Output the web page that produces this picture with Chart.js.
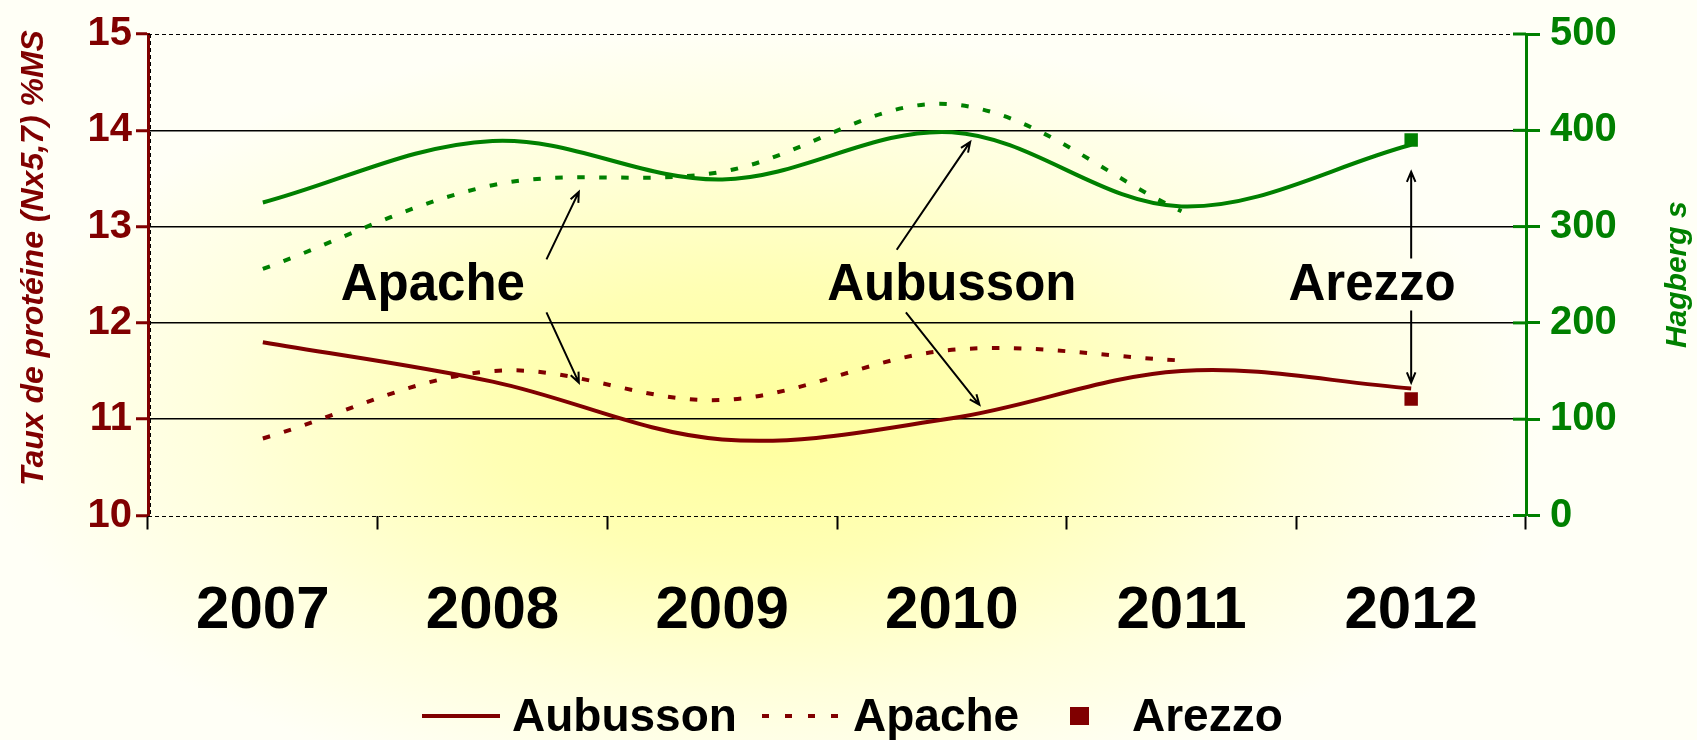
<!DOCTYPE html>
<html>
<head>
<meta charset="utf-8">
<script src="https://cdn.jsdelivr.net/npm/chart.js@4.4.1/dist/chart.umd.min.js"></script>
<style>
  html, body { margin: 0; padding: 0; background: #fffff4; }
  #wrap { width: 1697px; height: 740px; }
</style>
</head>
<body>
<div id="wrap"><canvas id="chart" width="1697" height="740"></canvas></div>
<script>
// --- data ---
const years = ['2007', '2008', '2009', '2010', '2011', '2012'];

// Taux de protéine (left axis, %MS)
const aubussonProteine = [11.80, 11.39, 10.79, 11.01, 11.50, 11.32];
const apacheProteine = [10.80, 11.50, 11.20, 11.72, 11.61, null];
const arezzoProteine = [null, null, null, null, null, 11.21];

// Hagberg (right axis, s)
const aubussonHagberg = [325, 389, 349, 398, 321, 385];
const apacheHagberg = [256, 343, 357, 427, 316, null];
const arezzoHagberg = [null, null, null, null, null, 390];

const proteineTicks = [10, 11, 12, 13, 14, 15];
const hagbergTicks = [0, 100, 200, 300, 400, 500];

const RED = '#800000';
const GREEN = '#008000';
const FONT = "'Liberation Sans', Arial, sans-serif";

// text labels with arrows, placed in data units (category index, protein value)
const callouts = [
    { text: 'Apache', x: 0.74, y: 12.24,
      arrows: [[1.235, 12.66, 1.376, 13.36], [1.235, 12.11, 1.376, 11.38]] },
    { text: 'Aubusson', x: 3.0, y: 12.24,
      arrows: [[2.76, 12.76, 3.08, 13.88], [2.80, 12.11, 3.12, 11.15]] },
    { text: 'Arezzo', x: 4.83, y: 12.24,
      arrows: [[5, 12.67, 5, 13.57], [5, 12.13, 5, 11.38]] }
];

function drawArrow(ctx, x1, y1, x2, y2) {
    const ang = Math.atan2(y2 - y1, x2 - x1);
    const len = 11;
    ctx.beginPath();
    ctx.moveTo(x1, y1);
    ctx.lineTo(x2, y2);
    ctx.moveTo(x2 - len * Math.cos(ang - 0.4), y2 - len * Math.sin(ang - 0.4));
    ctx.lineTo(x2, y2);
    ctx.lineTo(x2 - len * Math.cos(ang + 0.4), y2 - len * Math.sin(ang + 0.4));
    ctx.stroke();
}

const decorPlugin = {
    id: 'decor',
    beforeDraw(chart) {
        const { ctx, width, height } = chart;
        // soft yellow radial fill, strongest low in the middle
        const cx = 760, cy = 420, rx = 780, ry = 390;
        ctx.save();
        ctx.fillStyle = '#fffff6';
        ctx.fillRect(0, 0, width, height);
        ctx.translate(cx, cy);
        ctx.scale(1, ry / rx);
        const g = ctx.createRadialGradient(0, 0, 0, 0, 0, rx);
        g.addColorStop(0, '#ffff9c');
        g.addColorStop(0.35, '#ffffb4');
        g.addColorStop(0.7, '#ffffdc');
        g.addColorStop(1, '#fffff6');
        ctx.fillStyle = g;
        ctx.fillRect(-cx, -cy * rx / ry, width, height * rx / ry);
        ctx.restore();
    },
    beforeDatasetsDraw(chart) {
        const { ctx, chartArea: a, scales } = chart;
        ctx.save();
        // dashed frame lines at 15 and 10, and along the left side
        ctx.strokeStyle = '#000';
        ctx.lineWidth = 1;
        ctx.setLineDash([4, 3]);
        [15, 10].forEach(v => {
            const y = Math.round(scales.y.getPixelForValue(v)) + 0.5;
            ctx.beginPath();
            ctx.moveTo(a.left, y);
            ctx.lineTo(a.right, y);
            ctx.stroke();
        });
        ctx.beginPath();
        ctx.moveTo(a.left + 2.5, a.top);
        ctx.lineTo(a.left + 2.5, a.bottom);
        ctx.stroke();
        ctx.setLineDash([]);
        // green ticks crossing the right axis
        ctx.strokeStyle = GREEN;
        ctx.lineWidth = 3;
        hagbergTicks.forEach(v => {
            const y = scales.y2.getPixelForValue(v);
            ctx.beginPath();
            ctx.moveTo(a.right - 13, y);
            ctx.lineTo(a.right, y);
            ctx.stroke();
        });
        ctx.restore();
    },
    afterDraw(chart) {
        const { ctx, scales, chartArea: a } = chart;
        ctx.save();

        // callouts
        ctx.fillStyle = '#000';
        ctx.strokeStyle = '#000';
        ctx.lineWidth = 2;
        ctx.font = `bold 51px ${FONT}`;
        ctx.textAlign = 'center';
        ctx.textBaseline = 'alphabetic';
        callouts.forEach(c => {
            ctx.fillText(c.text, scales.x.getPixelForValue(c.x), scales.y.getPixelForValue(c.y));
            c.arrows.forEach(([i1, v1, i2, v2]) => {
                drawArrow(ctx,
                    scales.x.getPixelForValue(i1), scales.y.getPixelForValue(v1),
                    scales.x.getPixelForValue(i2), scales.y.getPixelForValue(v2));
            });
        });

        // axis titles
        ctx.font = `italic bold 32px ${FONT}`;
        ctx.fillStyle = RED;
        ctx.textBaseline = 'middle';
        ctx.save();
        ctx.translate(34, 258);
        ctx.rotate(-Math.PI / 2);
        ctx.fillText('Taux de protéine (Nx5,7) %MS', 0, 0);
        ctx.restore();
        ctx.font = `italic bold 30px ${FONT}`;
        ctx.fillStyle = GREEN;
        ctx.save();
        ctx.translate(1678, (a.top + a.bottom) / 2);
        ctx.rotate(-Math.PI / 2);
        ctx.fillText('Hagberg s', 0, 0);
        ctx.restore();

        // legend (protein series only)
        const ds = chart.data.datasets;
        const ly = 716;
        ctx.font = `bold 46px ${FONT}`;
        ctx.fillStyle = '#000';
        ctx.textAlign = 'left';
        ctx.textBaseline = 'middle';

        ctx.strokeStyle = RED;
        ctx.lineWidth = 4;
        ctx.beginPath();
        ctx.moveTo(422, ly);
        ctx.lineTo(500, ly);
        ctx.stroke();
        ctx.fillText(ds[0].label, 512, ly + 2);

        ctx.setLineDash([7, 16]);
        ctx.beginPath();
        ctx.moveTo(762, ly);
        ctx.lineTo(842, ly);
        ctx.stroke();
        ctx.setLineDash([]);
        ctx.fillText(ds[1].label, 853, ly + 2);

        ctx.fillStyle = RED;
        ctx.fillRect(1070, ly - 9, 19, 18);
        ctx.fillStyle = '#000';
        ctx.fillText(ds[2].label, 1132, ly + 2);

        ctx.restore();
    }
};

const lineBase = {
    borderWidth: 4,
    pointRadius: 0,
    tension: 0.35,
    fill: false,
    spanGaps: false
};

new Chart(document.getElementById('chart'), {
    type: 'line',
    data: {
        labels: years,
        datasets: [
            { ...lineBase, label: 'Aubusson', data: aubussonProteine, yAxisID: 'y',
              borderColor: RED, backgroundColor: RED },
            { ...lineBase, label: 'Apache', data: apacheProteine, yAxisID: 'y',
              borderColor: RED, backgroundColor: RED, borderDash: [7.5, 14.5] },
            { label: 'Arezzo', data: arezzoProteine, yAxisID: 'y', showLine: false,
              pointStyle: 'rect', pointRadius: 9.5, borderWidth: 0,
              borderColor: RED, backgroundColor: RED },
            { ...lineBase, label: 'Aubusson Hagberg', data: aubussonHagberg, yAxisID: 'y2',
              borderColor: GREEN, backgroundColor: GREEN },
            { ...lineBase, label: 'Apache Hagberg', data: apacheHagberg, yAxisID: 'y2',
              borderColor: GREEN, backgroundColor: GREEN, borderDash: [7.5, 14.5] },
            { label: 'Arezzo Hagberg', data: arezzoHagberg, yAxisID: 'y2', showLine: false,
              pointStyle: 'rect', pointRadius: 9.5, borderWidth: 0,
              borderColor: GREEN, backgroundColor: GREEN }
        ]
    },
    options: {
        responsive: false,
        animation: false,
        layout: { padding: { top: 29.5, left: 0, right: 0, bottom: 0 } },
        plugins: {
            legend: { display: false },
            tooltip: { enabled: false }
        },
        scales: {
            x: {
                offset: true,
                grid: {
                    offset: true,
                    drawOnChartArea: false,
                    drawTicks: true,
                    tickLength: 14,
                    tickColor: '#000',
                    tickWidth: 2
                },
                border: { display: false },
                ticks: {
                    color: '#000',
                    font: { family: FONT, size: 60, weight: 'bold' },
                    padding: 46,
                    maxRotation: 0
                },
                afterFit(scale) { scale.height = 224.5; }
            },
            y: {
                position: 'left',
                min: 10,
                max: 15,
                afterBuildTicks(scale) { scale.ticks = proteineTicks.map(v => ({ value: v })); },
                grid: {
                    color: ctx => (ctx.tick && (ctx.tick.value === 10 || ctx.tick.value === 15)) ? 'rgba(0,0,0,0)' : '#000',
                    lineWidth: 1.5,
                    tickColor: RED,
                    tickWidth: 3,
                    tickLength: 12
                },
                border: { display: true, color: RED, width: 3 },
                ticks: {
                    color: RED,
                    padding: 4,
                    font: { family: FONT, size: 40, weight: 'bold' }
                },
                afterFit(scale) { scale.width = 148; }
            },
            y2: {
                position: 'right',
                min: 0,
                max: 500,
                afterBuildTicks(scale) { scale.ticks = hagbergTicks.map(v => ({ value: v })); },
                grid: {
                    drawOnChartArea: false,
                    tickColor: GREEN,
                    tickWidth: 3,
                    tickLength: 14
                },
                border: { display: true, color: GREEN, width: 3 },
                ticks: {
                    color: GREEN,
                    padding: 10,
                    font: { family: FONT, size: 40, weight: 'bold' }
                },
                afterFit(scale) { scale.width = 171; }
            }
        }
    },
    plugins: [decorPlugin]
});
</script>
</body>
</html>
